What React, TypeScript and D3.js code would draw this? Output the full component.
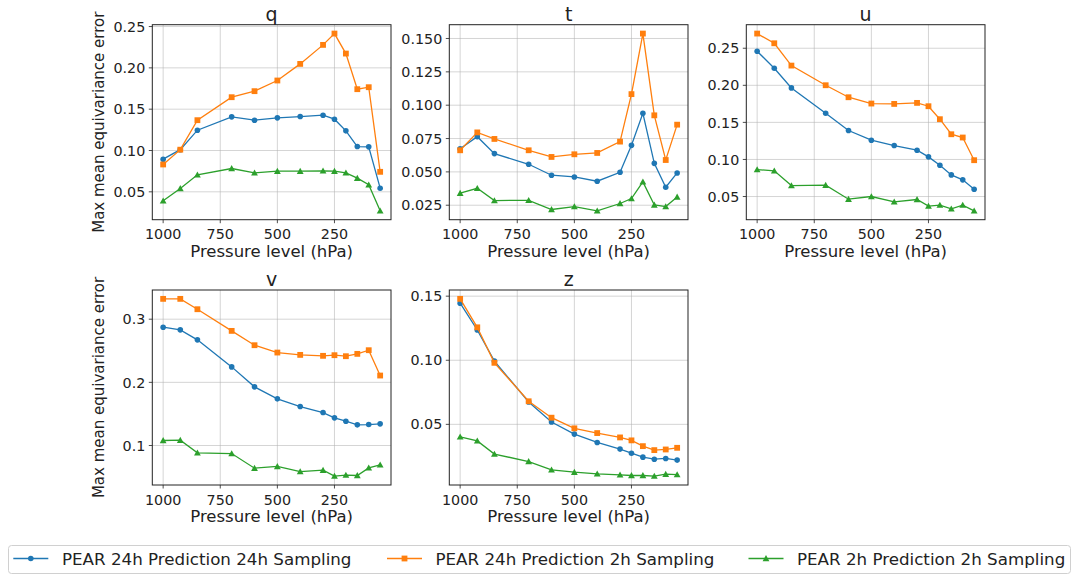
import React from "react";
import * as d3 from "d3";

const levels = [1000, 925, 850, 700, 600, 500, 400, 300, 250, 200, 150, 100, 50];
const xTicks = [1000, 750, 500, 250];

const seriesNames = [
  "PEAR 24h Prediction 24h Sampling",
  "PEAR 24h Prediction 2h Sampling",
  "PEAR 2h Prediction 2h Sampling",
];
const seriesColors = ["#1f77b4", "#ff7f0e", "#2ca02c"];
const seriesMarkers = ["circle", "square", "triangle"];

const qBlue = [0.0895, 0.101, 0.1246, 0.1407, 0.1367, 0.1395, 0.1411, 0.1427, 0.1379, 0.1238, 0.1048, 0.1044, 0.0544];
const qOrange = [0.0831, 0.101, 0.1367, 0.1645, 0.1718, 0.1847, 0.2048, 0.2278, 0.2415, 0.2173, 0.1742, 0.1766, 0.0742];
const qGreen = [0.0391, 0.054, 0.0706, 0.0782, 0.073, 0.075, 0.075, 0.0754, 0.075, 0.073, 0.0665, 0.0585, 0.027];

const tBlue = [0.0674, 0.0764, 0.0637, 0.0557, 0.0475, 0.0462, 0.043, 0.0497, 0.0699, 0.0939, 0.0564, 0.0385, 0.0492];
const tOrange = [0.0662, 0.0796, 0.0747, 0.0662, 0.0612, 0.0632, 0.0642, 0.0727, 0.1083, 0.1537, 0.0924, 0.0589, 0.0854];
const tGreen = [0.034, 0.0377, 0.0285, 0.0287, 0.0218, 0.024, 0.0208, 0.0263, 0.03, 0.0425, 0.0252, 0.024, 0.0312];

const uBlue = [0.246, 0.223, 0.1965, 0.1624, 0.139, 0.126, 0.1188, 0.1125, 0.1035, 0.0922, 0.0792, 0.0725, 0.0599];
const uOrange = [0.2698, 0.2567, 0.2266, 0.2001, 0.1839, 0.1754, 0.1749, 0.1763, 0.1718, 0.1543, 0.134, 0.1296, 0.099];
const uGreen = [0.0864, 0.0846, 0.0648, 0.0653, 0.0464, 0.05, 0.0428, 0.046, 0.0371, 0.0384, 0.0334, 0.0384, 0.0307];

const vBlue = [0.2873, 0.2831, 0.2673, 0.2245, 0.1929, 0.1739, 0.1617, 0.1522, 0.1438, 0.1385, 0.1327, 0.1332, 0.1343];
const vOrange = [0.3322, 0.3322, 0.3158, 0.2815, 0.2588, 0.2472, 0.2435, 0.242, 0.243, 0.2414, 0.2451, 0.2509, 0.2108];
const vGreen = [0.1079, 0.1084, 0.0884, 0.0873, 0.0641, 0.0668, 0.0588, 0.0609, 0.0515, 0.0531, 0.0525, 0.0646, 0.0694];

const zBlue = [0.1445, 0.1236, 0.0993, 0.0675, 0.0518, 0.0424, 0.0359, 0.0307, 0.0275, 0.0244, 0.0228, 0.0234, 0.0221];
const zOrange = [0.1479, 0.1257, 0.098, 0.068, 0.0552, 0.0469, 0.0432, 0.0398, 0.0375, 0.033, 0.0299, 0.0304, 0.0317];
const zGreen = [0.0403, 0.0371, 0.0268, 0.021, 0.0145, 0.0127, 0.0114, 0.0106, 0.0101, 0.0101, 0.0096, 0.0111, 0.0108];

const qTicks = [0.05, 0.1, 0.15, 0.2, 0.25];
const tTicks = [0.025, 0.05, 0.075, 0.1, 0.125, 0.15];
const uTicks = [0.05, 0.1, 0.15, 0.2, 0.25];
const vTicks = [0.1, 0.2, 0.3];
const zTicks = [0.05, 0.1, 0.15];

const panels = [
  { title: "q", series: [qBlue, qOrange, qGreen], ticks: qTicks, dec: 2, col: 0, row: 0 },
  { title: "t", series: [tBlue, tOrange, tGreen], ticks: tTicks, dec: 3, col: 1, row: 0 },
  { title: "u", series: [uBlue, uOrange, uGreen], ticks: uTicks, dec: 2, col: 2, row: 0 },
  { title: "v", series: [vBlue, vOrange, vGreen], ticks: vTicks, dec: 1, col: 0, row: 1 },
  { title: "z", series: [zBlue, zOrange, zGreen], ticks: zTicks, dec: 2, col: 1, row: 1 },
];

const W = 1074;
const H = 575;
const colLeft = [152.3, 449.3, 746.3];
const rowTop = [24.7, 290];
const AW = 238.7;
const AH = 195;
const FONT = "DejaVu Sans, sans-serif";
const TICK_FS = 14.3;
const XLABEL_FS = 16.5;
const YLABEL_FS = 15;
const LEGEND_FS = 16.7;
const TITLE_FS = 19;

function Marker({ type, x, y, color }: { type: string; x: number; y: number; color: string }) {
  if (type === "circle") return <circle cx={x} cy={y} r={2.8} fill={color} />;
  if (type === "square") return <rect x={x - 2.9} y={y - 2.9} width={5.8} height={5.8} fill={color} />;
  const s = 3.4;
  return <path d={`M${x},${y - s}L${x + s},${y + s * 0.8}L${x - s},${y + s * 0.8}Z`} fill={color} />;
}

function Panel({ p }: { p: (typeof panels)[number] }) {
  const left = colLeft[p.col];
  const top = rowTop[p.row];
  const xMin = d3.min(levels)!;
  const xMax = d3.max(levels)!;
  const xm = (xMax - xMin) * 0.05;
  const x = d3.scaleLinear().domain([xMax + xm, xMin - xm]).range([0, AW]);
  const all = p.series.flat();
  const yMin = d3.min(all)!;
  const yMax = d3.max(all)!;
  const ym = (yMax - yMin) * 0.05;
  const y = d3.scaleLinear().domain([yMin - ym, yMax + ym]).range([AH, 0]);
  const line = d3
    .line<number>()
    .x((_, i) => x(levels[i]))
    .y((d) => y(d));
  const yt = p.ticks.filter((t) => y(t) >= -0.5 && y(t) <= AH + 0.5);
  return (
    <g transform={`translate(${left},${top})`}>
      {xTicks.map((t) => (
        <line key={"gx" + t} x1={x(t)} x2={x(t)} y1={0} y2={AH} stroke="#b0b0b0" strokeOpacity={0.6} strokeWidth={0.9} />
      ))}
      {yt.map((t) => (
        <line key={"gy" + t} x1={0} x2={AW} y1={y(t)} y2={y(t)} stroke="#b0b0b0" strokeOpacity={0.6} strokeWidth={0.9} />
      ))}
      {p.series.map((s, si) => (
        <g key={si}>
          <path d={line(s) || ""} fill="none" stroke={seriesColors[si]} strokeWidth={1.3} />
          {s.map((v, i) => (
            <Marker key={i} type={seriesMarkers[si]} x={x(levels[i])} y={y(v)} color={seriesColors[si]} />
          ))}
        </g>
      ))}
      <rect x={0} y={0} width={AW} height={AH} fill="none" stroke="#222" strokeWidth={1} />
      {xTicks.map((t) => (
        <g key={"xt" + t}>
          <line x1={x(t)} x2={x(t)} y1={AH} y2={AH + 3.5} stroke="#222" strokeWidth={0.8} />
          <text x={x(t)} y={AH + 19.5} textAnchor="middle" fontSize={TICK_FS} fontFamily={FONT} fill="#222">
            {t}
          </text>
        </g>
      ))}
      {yt.map((t) => (
        <g key={"yt" + t}>
          <line x1={-3.5} x2={0} y1={y(t)} y2={y(t)} stroke="#222" strokeWidth={0.8} />
          <text x={-7} y={y(t)} dy="0.36em" textAnchor="end" fontSize={TICK_FS} fontFamily={FONT} fill="#222">
            {t.toFixed(p.dec)}
          </text>
        </g>
      ))}
      <text x={AW / 2} y={AH + 37} textAnchor="middle" fontSize={XLABEL_FS} fontFamily={FONT} fill="#222">
        Pressure level (hPa)
      </text>
      <text x={AW / 2} y={-4} textAnchor="middle" fontSize={TITLE_FS} fontFamily={FONT} fill="#222">
        {p.title}
      </text>
      {p.col === 0 && (
        <text
          transform={`translate(${-48.5},${AH / 2}) rotate(-90)`}
          textAnchor="middle"
          fontSize={YLABEL_FS}
          fontFamily={FONT}
          fill="#222"
        >
          Max mean equivariance error
        </text>
      )}
    </g>
  );
}

const legendHandleX = [13.3, 387, 748.5];
const legendTextX = [62, 435.5, 797];

export default function App() {
  return (
    <svg width={W} height={H} style={{ position: "absolute", left: 0, top: 0 }}>
      <rect width={W} height={H} fill="white" />
      {panels.map((p) => (
        <Panel key={p.title} p={p} />
      ))}
      <rect x={8.5} y={545.5} width={1062} height={28} rx={3} fill="white" stroke="#d0d0d0" strokeWidth={1} />
      {seriesNames.map((n, i) => (
        <g key={n}>
          <line x1={legendHandleX[i]} x2={legendHandleX[i] + 35} y1={558.5} y2={558.5} stroke={seriesColors[i]} strokeWidth={1.5} />
          <Marker type={seriesMarkers[i]} x={legendHandleX[i] + 17.5} y={558.5} color={seriesColors[i]} />
          <text x={legendTextX[i]} y={558.5} dy="0.36em" fontSize={LEGEND_FS} fontFamily={FONT} fill="#222">
            {n}
          </text>
        </g>
      ))}
    </svg>
  );
}
